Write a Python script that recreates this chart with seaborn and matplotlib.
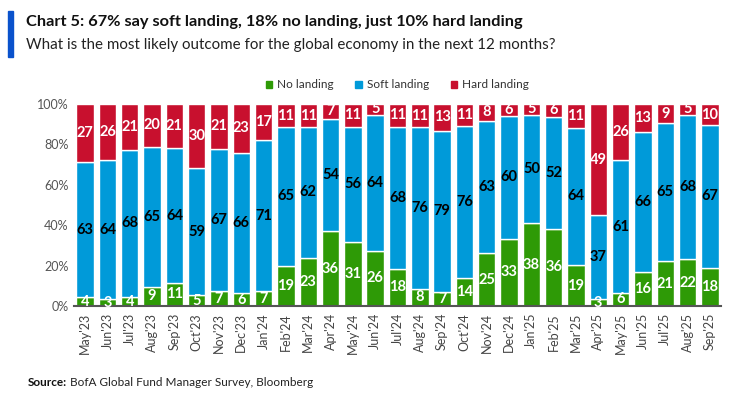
import matplotlib
matplotlib.use("Agg")
import matplotlib.pyplot as plt
import seaborn as sns
import numpy as np
import pandas as pd
from matplotlib.patches import Rectangle

months = ["May'23", "Jun'23", "Jul'23", "Aug'23", "Sep'23", "Oct'23", "Nov'23", "Dec'23",
          "Jan'24", "Feb'24", "Mar'24", "Apr'24", "May'24", "Jun'24", "Jul'24", "Aug'24",
          "Sep'24", "Oct'24", "Nov'24", "Dec'24", "Jan'25", "Feb'25", "Mar'25", "Apr'25",
          "May'25", "Jun'25", "Jul'25", "Aug'25", "Sep'25"]
no_landing = [4, 3, 4, 9, 11, 5, 7, 6, 7, 19, 23, 36, 31, 26, 18, 8, 7, 14, 25, 33, 38, 36, 19, 3, 6, 16, 21, 22, 18]
soft_landing = [63, 64, 68, 65, 64, 59, 67, 66, 71, 65, 62, 54, 56, 64, 68, 76, 79, 76, 63, 60, 50, 52, 64, 37, 61, 66, 65, 68, 67]
hard_landing = [27, 26, 21, 20, 21, 30, 21, 23, 17, 11, 11, 7, 11, 5, 11, 11, 13, 11, 8, 6, 5, 6, 11, 49, 26, 13, 9, 5, 10]
series_names = ["No landing", "Soft landing", "Hard landing"]
yticks = [0, 20, 40, 60, 80, 100]

GREEN = "#2e9a06"
BLUE = "#009ad9"
RED = "#c8102e"
colors = [GREEN, BLUE, RED]

sns.set_theme(style="white")
FONT = ["Liberation Sans Narrow", "Lato", "DejaVu Sans"]
plt.rcParams["font.family"] = FONT

df = pd.DataFrame({"month": months, "No landing": no_landing,
                   "Soft landing": soft_landing, "Hard landing": hard_landing})
total = df[series_names].sum(axis=1)
shares = df[series_names].div(total, axis=0) * 100

fig = plt.figure(figsize=(7.41, 3.96), dpi=100)
ax = fig.add_axes([74 / 741, 90 / 396, 647 / 741, 202 / 396])

bottom = np.zeros(len(months))
for name, col in zip(series_names, colors):
    sns.barplot(x=df["month"], y=shares[name].values, bottom=bottom, color=col,
                width=0.78, edgecolor="white", linewidth=1.0, ax=ax, label=name,
                saturation=1)
    raw = df[name].values
    for i, (b, h, v) in enumerate(zip(bottom, shares[name].values, raw)):
        tc = "black" if name == "Soft landing" else "white"
        ax.text(i, b + h / 2, str(v), ha="center", va="center", fontsize=10.5,
                fontweight="bold", color=tc)
    bottom = bottom + shares[name].values

ax.set_xlim(-0.5, len(months) - 0.5)
ax.set_ylim(0, 100)
ax.set_yticks(yticks)
ax.set_yticklabels([f"{t}%" for t in yticks], fontsize=9, color="#555555")
ax.set_xlabel("")
ax.set_ylabel("")
ax.tick_params(axis="x", rotation=90, labelsize=9, colors="#444444", length=0, pad=5)
ax.tick_params(axis="y", length=0, pad=4)
for s in ["top", "right", "left"]:
    ax.spines[s].set_visible(False)
ax.spines["bottom"].set_color("#555555")
ax.spines["bottom"].set_linewidth(1.5)

handles = [Rectangle((0, 0), 1, 1, color=c) for c in colors]
ax.legend(handles, series_names, loc="lower center", bbox_to_anchor=(0.5, 1.015),
          ncol=3, frameon=False, fontsize=8.5, handlelength=0.55, handleheight=0.55,
          columnspacing=1.8, handletextpad=0.45, labelcolor="#333333")

# Header
fig.patches.append(Rectangle((8 / 741, 1 - 57 / 396), 5 / 741, 46 / 396,
                             transform=fig.transFigure, color="#0a52cc", zorder=5))
title = fig.text(26 / 741, 1 - 22 / 396, "Chart 5: 67% say soft landing, 18% no landing, just 10% hard landing",
                 fontsize=13, fontweight="bold", va="center", ha="left", color="#111111")
sub = fig.text(26 / 741, 1 - 45 / 396, "What is the most likely outcome for the global economy in the next 12 months?",
               fontsize=12.5, va="center", ha="left", color="#222222")

# Source
t1 = fig.text(28 / 741, 1 - 382 / 396, "Source:", fontsize=8.5, fontweight="bold",
              va="center", ha="left", color="#111111")
fig.canvas.draw()
r = fig.canvas.get_renderer()
for t, target in [(title, 497), (sub, 530)]:
    w = t.get_window_extent(renderer=r).width
    t.set_fontsize(t.get_fontsize() * target / w)
bb = t1.get_window_extent(renderer=r)
fig.text((bb.x1 + 3) / 741, 1 - 382 / 396, "BofA Global Fund Manager Survey, Bloomberg",
         fontsize=8.5, va="center", ha="left", color="#222222")

fig.savefig("out.png", dpi=100)
